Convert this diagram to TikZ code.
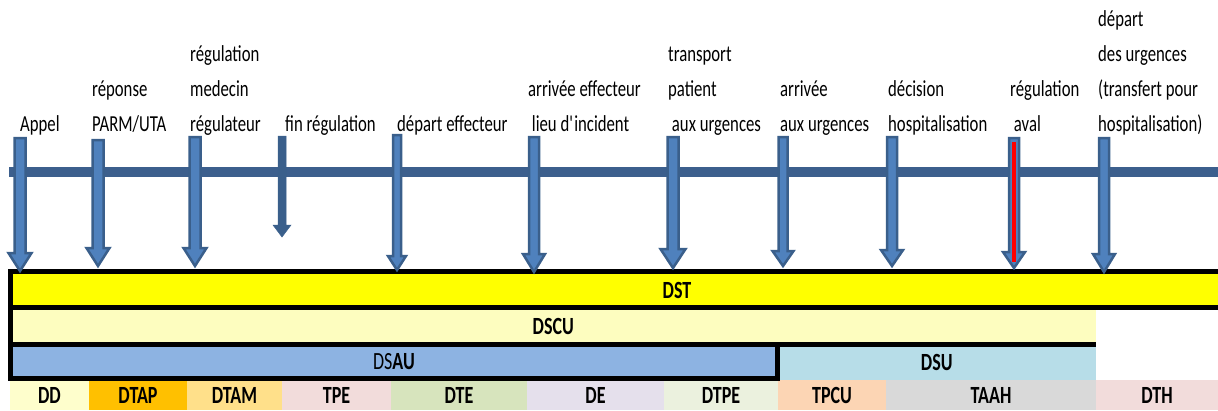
\documentclass[tikz,border=0pt]{standalone}
\usepackage{fontspec}
\setmainfont{Carlito}[FakeStretch=0.73]
\usetikzlibrary{calc}
\definecolor{arrdark}{HTML}{3A5F8B}
\definecolor{arrlight}{HTML}{4F81BD}
\definecolor{tlblue}{HTML}{3C5F8D}
\definecolor{cDST}{HTML}{FFFF00}
\definecolor{cDSCU}{HTML}{FDFDBF}
\definecolor{cDSAU}{HTML}{8DB3E2}
\definecolor{cDSU}{HTML}{B7DDE8}
\definecolor{cDD}{HTML}{FEFECC}
\definecolor{cDTAP}{HTML}{FFC000}
\definecolor{cDTAM}{HTML}{FFE08A}
\definecolor{cTPE}{HTML}{F2DCDB}
\definecolor{cDTE}{HTML}{D7E4BD}
\definecolor{cDE}{HTML}{E5E0EC}
\definecolor{cDTPE}{HTML}{EBF1DE}
\definecolor{cTPCU}{HTML}{FCD5B4}
\definecolor{cTAAH}{HTML}{D9D9D9}
\definecolor{cDTH}{HTML}{F2DCDB}
% vertical block arrow between two named coordinates
\newcommand\vArrow[6]{%
  \path[#6] let \p1=(#1), \p2=(#2) in
   (\x1-#3pt,\y1) -- (\x1+#3pt,\y1) -- (\x1+#3pt,\y2+#5pt) -- (\x1+#4pt,\y2+#5pt)
   -- (\x2,\y2) -- (\x1-#4pt,\y2+#5pt) -- (\x1-#3pt,\y2+#5pt) -- cycle;}
\tikzset{
  lbl/.style={anchor=base west, inner sep=0pt, font=\fontsize{22.9}{34.7}\selectfont},
  bar/.style={inner sep=0pt, outer sep=0pt, font=\fontsize{24.7}{26}\selectfont},
  cell/.style={bar, minimum height=30pt},
  border/.style={draw=black, line width=4.5pt, line join=miter},
  timeline/.style={draw=tlblue, line width=10pt},
  arrbig/.style={fill=arrlight, draw=arrdark, line width=2.5pt, line join=miter},
  arrthin/.style={fill=arrdark, draw=arrdark, line width=0.5pt},
  redline/.style={draw=red, line width=3.5pt}
}
\begin{document}
\begin{tikzpicture}[x=1pt,y=-1pt]
\useasboundingbox (0,0) rectangle (1218,410);
% ---- bars
\node[bar, fill=cDST, minimum width=1207.5pt, minimum height=36pt] (dst) at (614.25,289.5) {};
\node[bar, fill=cDSCU, minimum width=1085.5pt, minimum height=37pt] (dscu) at (553.25,326) {\textbf{DSCU}};
\node[bar, fill=cDSAU, minimum width=767pt, minimum height=34pt] (dsau) at (394,361.5) {DS\textbf{AU}};
\node[bar, fill=cDSU, minimum width=318.5pt, minimum height=35.5pt] (dsu) at (936.75,362.25) {\textbf{DSU}};
\node[bar] (dstlab) at (677,290) {\textbf{DST}};
% ---- bottom cells
\node[cell, fill=cDD,   minimum width=79pt]  (dd)   at (49.5,395)  {\textbf{DD}};
\node[cell, fill=cDTAP, minimum width=98pt]  (dtap) at (138,395)   {\textbf{DTAP}};
\node[cell, fill=cDTAM, minimum width=95pt]  (dtam) at (234.5,395) {\textbf{DTAM}};
\node[cell, fill=cTPE,  minimum width=109pt] (tpe)  at (336.5,395) {\textbf{TPE}};
\node[cell, fill=cDTE,  minimum width=136pt] (dte)  at (459,395)   {\textbf{DTE}};
\node[cell, fill=cDE,   minimum width=137pt] (de)   at (595.5,395) {\textbf{DE}};
\node[cell, fill=cDTPE, minimum width=114pt] (dtpe) at (721,395)   {\textbf{DTPE}};
\node[cell, fill=cTPCU, minimum width=108pt] (tpcu) at (832,395)   {\textbf{TPCU}};
\node[cell, fill=cTAAH, minimum width=210pt] (taah) at (991,395)   {\textbf{TAAH}};
\node[cell, fill=cDTH,  minimum width=122pt] (dth)  at (1157,395)  {\textbf{DTH}};
% ---- black borders
\draw[border] (dst.north east) -- (dst.north west) -- (dsau.south west) -- (dsau.south east) -- (dsau.north east);
\draw[border] (dst.south west) -- (dst.south east);
\draw[border] (dscu.south west) -- (dscu.south east);
% ---- timeline
\coordinate (tlL) at (9,172);
\coordinate (tlR) at (1218,172);
\draw[timeline] (tlL) -- (tlR);
% ---- arrows
\coordinate (a1t) at (20,138);   \coordinate (a1b) at (20,271);
\coordinate (a2t) at (98,140);   \coordinate (a2b) at (98,266);
\coordinate (a3t) at (195,137);  \coordinate (a3b) at (195,266);
\coordinate (a4t) at (282,136);  \coordinate (a4b) at (282,237);
\coordinate (a5t) at (397,135);  \coordinate (a5b) at (397,270);
\coordinate (a6t) at (534,137);  \coordinate (a6b) at (534,272);
\coordinate (a7t) at (673,137);  \coordinate (a7b) at (673,268);
\coordinate (a8t) at (783,137);  \coordinate (a8b) at (783,266);
\coordinate (a9t) at (892,137);  \coordinate (a9b) at (892,266);
\coordinate (a10t) at (1014,138); \coordinate (a10b) at (1014,268);
\coordinate (a11t) at (1104,138); \coordinate (a11b) at (1104,272);
\coordinate (r10t) at (1014,142); \coordinate (r10b) at (1014,262);
\vArrow{a1t}{a1b}{5.5}{11.5}{18}{arrbig}
\vArrow{a2t}{a2b}{5.5}{11.5}{18}{arrbig}
\vArrow{a3t}{a3b}{5.5}{11.5}{18}{arrbig}
\vArrow{a4t}{a4b}{4}{9}{12}{arrthin}
\vArrow{a5t}{a5b}{4}{9}{14}{arrbig}
\vArrow{a6t}{a6b}{5}{11}{18}{arrbig}
\vArrow{a7t}{a7b}{5.5}{12.5}{19}{arrbig}
\vArrow{a8t}{a8b}{4.5}{10.5}{15}{arrbig}
\vArrow{a9t}{a9b}{5}{11}{16}{arrbig}
\vArrow{a10t}{a10b}{5}{11}{16}{arrbig}
\vArrow{a11t}{a11b}{5}{11}{18}{arrbig}
\draw[redline] (r10t) -- (r10b);
% ---- labels
\node[lbl] (l1) at (20,131) {\begin{tabular}[b]{@{}l@{}}Appel\end{tabular}};
\node[lbl] (l2) at (92,131) {\begin{tabular}[b]{@{}l@{}}réponse\\PARM/UTA\end{tabular}};
\node[lbl] (l3) at (190,131) {\begin{tabular}[b]{@{}l@{}}régulation\\medecin\\régulateur\end{tabular}};
\node[lbl] (l4) at (285,131) {\begin{tabular}[b]{@{}l@{}}fin régulation\end{tabular}};
\node[lbl] (l5) at (397,131) {\begin{tabular}[b]{@{}l@{}}départ effecteur\end{tabular}};
\node[lbl] (l6) at (528,131) {\begin{tabular}[b]{@{}l@{}}arrivée effecteur\\\ lieu d\textquotesingle incident\end{tabular}};
\node[lbl] (l7) at (668,131) {\begin{tabular}[b]{@{}l@{}}transport\\patient\\\ aux urgences\end{tabular}};
\node[lbl] (l8) at (780,131) {\begin{tabular}[b]{@{}l@{}}arrivée\\aux urgences\end{tabular}};
\node[lbl] (l9) at (888,131) {\begin{tabular}[b]{@{}l@{}}décision\\hospitalisation\end{tabular}};
\node[lbl] (l10) at (1010,131) {\begin{tabular}[b]{@{}l@{}}régulation\\\ aval\end{tabular}};
\node[lbl] (l11) at (1098,131) {\begin{tabular}[b]{@{}l@{}}départ\\des urgences\\(transfert pour\\hospitalisation)\end{tabular}};
\end{tikzpicture}
\end{document}
